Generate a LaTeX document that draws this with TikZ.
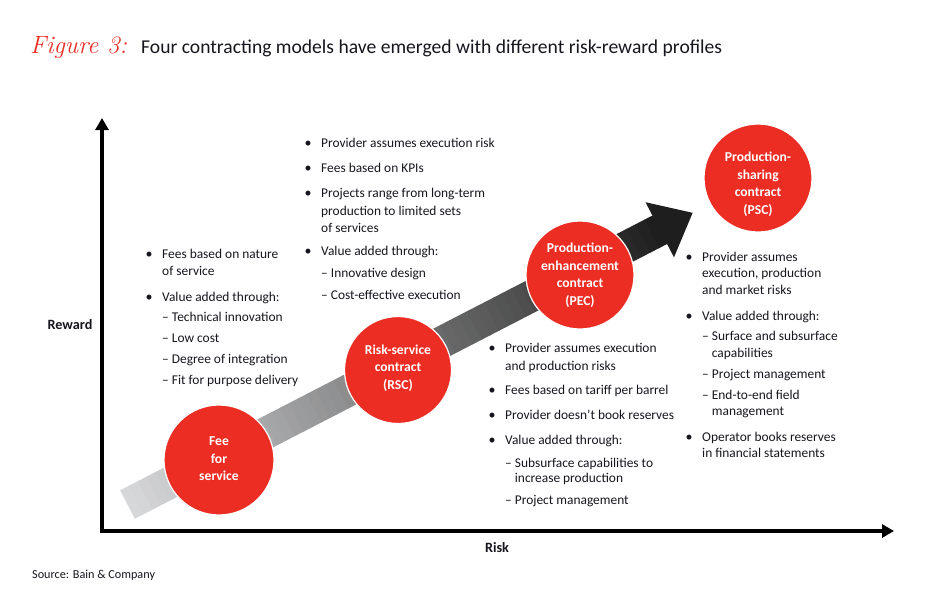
\documentclass[tikz,border=0pt]{standalone}
\usepackage{fontspec}
\newfontfamily\bodyfont{Carlito}
\usetikzlibrary{arrows.meta}
\definecolor{bainred}{RGB}{236,45,36}
\definecolor{gLight}{RGB}{214,215,217}
\definecolor{gDark}{RGB}{30,30,30}
\definecolor{ink}{RGB}{22,22,30}
\newcommand\mybul[4]{\node[txt] (#1) at (#2,#3) {#4};\node[bul] (#1d) at (#2-13,#3) {\textbullet};}
\newcommand\myline[4]{\node[txt] (#1) at (#2,#3) {#4};}
\newcommand\ind{\phantom{–\ }}
\begin{document}
\begin{tikzpicture}[x=1pt,y=-1pt,
  txt/.style={anchor=base west, inner sep=0pt, text=ink, font=\bodyfont\fontsize{13.4}{15}\selectfont},
  bul/.style={anchor=base, inner sep=0pt, text=ink, font=\bodyfont\fontsize{14}{15}\selectfont},
  disc/.style={circle, fill=bainred, draw=white, line width=1.2pt, minimum size=#1, inner sep=0pt},
  clabel/.style={align=center, text=white, inner sep=0pt, font=\bodyfont\bfseries\fontsize{13.6}{17.5}\selectfont},
  axlabel/.style={inner sep=0pt, text=ink, font=\bodyfont\bfseries\fontsize{14.2}{15}\selectfont},
  axtip/.style={line width=3.4pt, line join=miter, {Triangle[width=13pt,length=12pt]}-{Triangle[width=13pt,length=12pt]}}
]
\useasboundingbox (0,0) rectangle (950,608);
\fill[white] (0,0) rectangle (950,608);

% title
\node[anchor=base west, inner sep=0pt, text=bainred, font=\itshape\fontsize{25}{25}\selectfont] (fig) at (30,53) {Figure 3:};
\node[anchor=base west, inner sep=0pt, text=ink, font=\bodyfont\fontsize{19.6}{21}\selectfont] (title) at (141,53) {Four contracting models have emerged with different risk-reward profiles};

% axes
\coordinate (ytop) at (102,118);
\coordinate (orig) at (102,531);
\coordinate (xend) at (894,531);
\draw[axtip] (ytop) -- (orig) -- (xend);
\node[axlabel] (reward) at (70,325) {Reward};
\node[axlabel] (risk) at (497,548) {Risk};

% gradient arrow
\begin{scope}[shift={(127.5,504.5)}, rotate=27.3]
  \foreach \i in {0,...,59}{
    \pgfmathtruncatemacro\p{\i*100/59}
    \fill[gDark!\p!gLight] ({\i*10},-16) rectangle ({\i*10+10.6},16);
  }
  \fill[gDark] (599,-31) -- (636,0) -- (599,31) -- cycle;
\end{scope}

% circles
\node[disc=110pt] (c1) at (219,460) {};
\node[disc=107pt] (c2) at (398,370) {};
\node[disc=108pt] (c3) at (580,275) {};
\node[disc=108pt] (c4) at (758,178) {};
\node[clabel] (t1) at (219,459) {Fee\\for\\service};
\node[clabel] (t2) at (398,368) {Risk-service\\contract\\(RSC)};
\node[clabel] (t3) at (580,275) {Production-\\enhancement\\contract\\(PEC)};
\node[clabel] (t4) at (758,184) {Production-\\sharing\\contract\\(PSC)};

% block 1
\mybul{a1}{162}{258}{Fees based on nature}
\myline{a2}{162}{275}{of service}
\mybul{a3}{162}{301}{Value added through:}
\myline{a4}{162}{321}{– Technical innovation}
\myline{a5}{162}{342}{– Low cost}
\myline{a6}{162}{363}{– Degree of integration}
\myline{a7}{162}{384}{– Fit for purpose delivery}

% block 2
\mybul{b1}{321}{147}{Provider assumes execution risk}
\mybul{b2}{321}{172}{Fees based on KPIs}
\mybul{b3}{321}{197}{Projects range from long-term}
\myline{b4}{321}{215}{production to limited sets}
\myline{b5}{321}{232}{of services}
\mybul{b6}{321}{255}{Value added through:}
\myline{b7}{321}{277}{– Innovative design}
\myline{b8}{321}{299}{– Cost-effective execution}

% block 3
\mybul{d1}{505}{352}{Provider assumes execution}
\myline{d2}{505}{370}{and production risks}
\mybul{d3}{505}{394}{Fees based on tariff per barrel}
\mybul{d4}{505}{419}{Provider doesn’t book reserves}
\mybul{d5}{505}{444}{Value added through:}
\myline{d6}{505}{467}{– Subsurface capabilities to}
\myline{d7}{505}{482}{\ind increase production}
\myline{d8}{505}{504}{– Project management}

% block 4
\mybul{e1}{702}{261}{Provider assumes}
\myline{e2}{702}{277}{execution, production}
\myline{e3}{702}{294}{and market risks}
\mybul{e4}{702}{320}{Value added through:}
\myline{e5}{702}{340}{– Surface and subsurface}
\myline{e6}{702}{357}{\ind capabilities}
\myline{e7}{702}{378}{– Project management}
\myline{e8}{702}{399}{– End-to-end field}
\myline{e9}{702}{415}{\ind management}
\mybul{e10}{702}{441}{Operator books reserves}
\myline{e11}{702}{457}{in financial statements}

% source
\node[anchor=base west, inner sep=0pt, text=ink, font=\bodyfont\fontsize{12.2}{13}\selectfont] (src) at (32,578) {Source: Bain \& Company};
\end{tikzpicture}
\end{document}
